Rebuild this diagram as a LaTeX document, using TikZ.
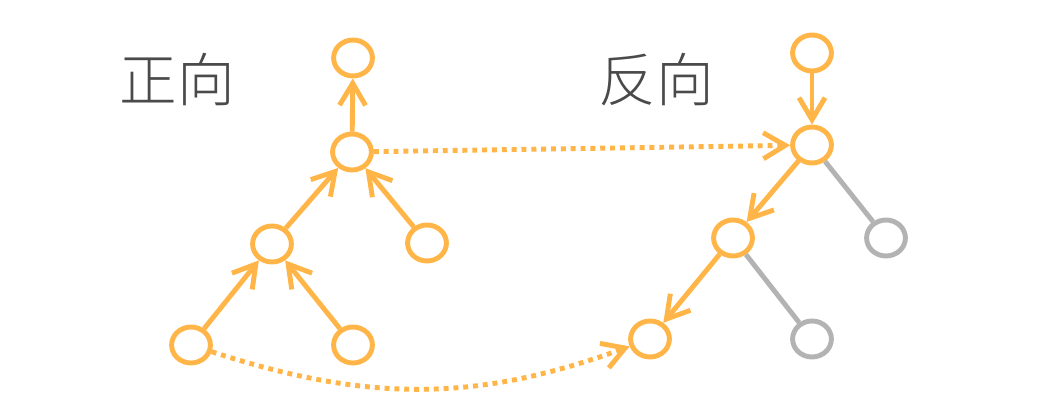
\documentclass[tikz,border=0pt]{standalone}
\usepackage{fontspec}
\newfontfamily\cjk{Noto Sans CJK SC Light}
\usetikzlibrary{shapes.geometric,arrows.meta}
\definecolor{treeorange}{HTML}{FFB547}
\definecolor{treegray}{HTML}{B3B3B3}
\definecolor{labelgray}{HTML}{4A4A4A}
\begin{document}
\begin{tikzpicture}[x=0.025cm,y=0.025cm,
  nd/.style={draw=treeorange,ellipse,line width=3.5pt,minimum width=0.97cm,minimum height=0.9cm,inner sep=0pt},
  gnd/.style={nd,draw=treegray},
  arr/.style={draw=treeorange,line width=3.5pt,-{Straight Barb[length=0.55cm,width=0.65cm]}},
  dotarr/.style={arr,dash pattern=on 3.5pt off 3.5pt},
  gline/.style={draw=treegray,line width=3.5pt},
  ttl/.style={text=labelgray,font=\cjk\fontsize{41}{41}\selectfont}]
\useasboundingbox (0,0) rectangle (1064,418);
% forward
\node[ttl] (fwd) at (177,338) {正向};
\node[nd] (ftop) at (353,360) {};
\node[nd] (fmid) at (352,266) {};
\node[nd] (fl) at (272,174) {};
\node[nd] (fr) at (427,175) {};
\node[nd] (fbl) at (191,73) {};
\node[nd] (fbr) at (353,73) {};
\draw[arr] (fmid) -- (ftop);
\draw[arr] (fl) -- (fmid);
\draw[arr] (fr) -- (fmid);
\draw[arr] (fbl) -- (fl);
\draw[arr] (fbr) -- (fl);
% backward
\node[ttl] (bwd) at (656,338) {反向};
\node[nd] (btop) at (812,365) {};
\node[nd] (bmid) at (812,273) {};
\node[nd] (bl) at (733,180) {};
\node[gnd] (br) at (886,180) {};
\node[nd] (bbl) at (650,79) {};
\node[gnd] (bbr) at (812,79) {};
\draw[arr] (btop) -- (bmid);
\draw[arr] (bmid) -- (bl);
\draw[arr] (bl) -- (bbl);
\draw[gline] (bmid) -- (br);
\draw[gline] (bl) -- (bbr);
% links
\draw[dotarr] (fmid) -- (bmid);
\draw[dotarr] (fbl) to[out=-18,in=200] (bbl);
\end{tikzpicture}
\end{document}
